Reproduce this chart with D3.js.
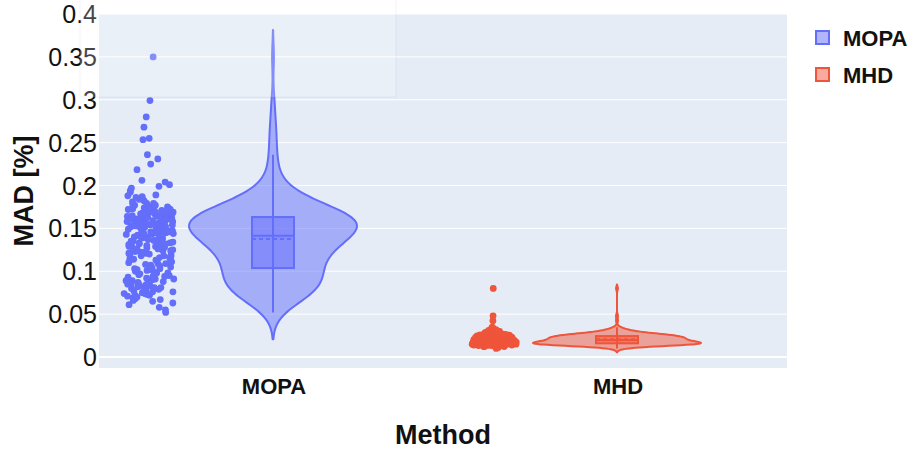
<!DOCTYPE html>
<html>
<head>
<meta charset="utf-8">
<script src="https://cdn.jsdelivr.net/npm/d3@7"></script>
<style>
  body { margin: 0; background: #fff; }
  svg text { font-family: "Liberation Sans", Arial, sans-serif; }
</style>
</head>
<body>
<div id="chart"></div>
<script>
// categories and colours
var methods = ['MOPA', 'MHD'];
var colors = ['#636efa', '#ef553b'];

// MAD [%] per run
var mopaValues = [
  0.052, 0.055, 0.058,
  0.061, 0.063, 0.065, 0.066, 0.067, 0.068, 0.069,
  0.070, 0.071, 0.072, 0.072, 0.073, 0.074, 0.074, 0.075, 0.076, 0.076, 0.077, 0.078, 0.079, 0.079,
  0.080, 0.081, 0.081, 0.082, 0.083, 0.083, 0.084, 0.085, 0.085, 0.086, 0.087, 0.087, 0.088, 0.089, 0.089,
  0.090, 0.091, 0.091, 0.092, 0.093, 0.093, 0.094, 0.095, 0.095, 0.096, 0.097, 0.098, 0.098, 0.099,
  0.100, 0.101, 0.101, 0.102, 0.102, 0.103, 0.103, 0.104, 0.105, 0.106, 0.107, 0.108, 0.109, 0.109,
  0.110, 0.111, 0.112, 0.113, 0.113, 0.114, 0.115, 0.116, 0.116, 0.117, 0.118, 0.118, 0.119, 0.119,
  0.120, 0.121, 0.121, 0.122, 0.122, 0.123, 0.124, 0.124, 0.125, 0.126, 0.126, 0.127, 0.127, 0.128, 0.129, 0.129,
  0.130, 0.130, 0.131, 0.131, 0.132, 0.132, 0.133, 0.133, 0.134, 0.134, 0.135, 0.135, 0.136, 0.136,
  0.137, 0.137, 0.138, 0.138, 0.139, 0.139, 0.140, 0.140, 0.141,
  0.142, 0.142, 0.143, 0.143, 0.143, 0.144, 0.144, 0.145, 0.145, 0.145, 0.146, 0.146, 0.146,
  0.147, 0.147, 0.148, 0.148, 0.148, 0.149, 0.149, 0.149, 0.150,
  0.150, 0.151, 0.151, 0.151, 0.152, 0.152, 0.152, 0.153, 0.153, 0.153, 0.154, 0.154, 0.154,
  0.155, 0.155, 0.155, 0.156, 0.156, 0.156, 0.157, 0.157, 0.157, 0.158, 0.158, 0.158,
  0.159, 0.159, 0.159, 0.160, 0.160, 0.160, 0.161, 0.161, 0.161, 0.162, 0.162, 0.162, 0.163,
  0.164, 0.164, 0.164, 0.165, 0.165, 0.165, 0.166, 0.166, 0.166, 0.167, 0.167, 0.167,
  0.168, 0.168, 0.168, 0.169, 0.169, 0.170, 0.170,
  0.171, 0.171, 0.172, 0.172, 0.173, 0.173, 0.174, 0.174, 0.175, 0.175, 0.176, 0.177, 0.177, 0.178, 0.179, 0.179,
  0.181, 0.182, 0.184, 0.185, 0.186, 0.187, 0.188, 0.189,
  0.192, 0.194, 0.197, 0.199,
  0.201, 0.204, 0.206,
  0.2185, 0.225, 0.231, 0.236, 0.2535, 0.255, 0.268, 0.280, 0.299, 0.350
];

var mhdValues = [
  0.0100, 0.0110, 0.0116,
  0.0121, 0.0123, 0.0125, 0.0127, 0.0128, 0.0130, 0.0131, 0.0132, 0.0134, 0.0135, 0.0136, 0.0137, 0.0138, 0.0139,
  0.0140, 0.0140, 0.0141, 0.0141, 0.0142, 0.0142, 0.0142, 0.0143, 0.0143, 0.0144, 0.0144, 0.0144,
  0.0145, 0.0145, 0.0146, 0.0146, 0.0146, 0.0147, 0.0147, 0.0148, 0.0148, 0.0148, 0.0149, 0.0149,
  0.0150, 0.0150, 0.0151, 0.0151, 0.0152, 0.0152, 0.0153, 0.0153, 0.0154, 0.0154,
  0.0155, 0.0155, 0.0156, 0.0156, 0.0157, 0.0157, 0.0158, 0.0158, 0.0159,
  0.0160, 0.0160, 0.0161, 0.0161, 0.0162, 0.0162, 0.0163, 0.0163, 0.0164, 0.0164, 0.0165, 0.0165,
  0.0166, 0.0166, 0.0167, 0.0167, 0.0168, 0.0168, 0.0169, 0.0169, 0.0170, 0.0170, 0.0171, 0.0171,
  0.0172, 0.0172, 0.0173, 0.0173, 0.0174, 0.0174, 0.0175, 0.0175, 0.0176, 0.0176, 0.0177, 0.0178,
  0.0180, 0.0181, 0.0181, 0.0182, 0.0183, 0.0183, 0.0184, 0.0185, 0.0185, 0.0186, 0.0187, 0.0187,
  0.0188, 0.0189, 0.0189, 0.0190, 0.0191, 0.0192, 0.0193, 0.0194, 0.0195, 0.0196, 0.0197, 0.0199,
  0.0200, 0.0201, 0.0201, 0.0202, 0.0203, 0.0203, 0.0204, 0.0205, 0.0205, 0.0206, 0.0207, 0.0207,
  0.0208, 0.0209, 0.0209, 0.0210, 0.0211, 0.0211, 0.0212, 0.0213, 0.0213, 0.0214, 0.0215, 0.0216,
  0.0216, 0.0217, 0.0218, 0.0219,
  0.0220, 0.0221, 0.0221, 0.0222, 0.0222, 0.0223, 0.0224, 0.0224, 0.0225, 0.0226, 0.0226, 0.0227,
  0.0228, 0.0228, 0.0229, 0.0230, 0.0230, 0.0231, 0.0232, 0.0232, 0.0233, 0.0234, 0.0235, 0.0236,
  0.0237, 0.0238, 0.0239, 0.0240, 0.0241, 0.0242, 0.0243, 0.0244,
  0.0245, 0.0245, 0.0246, 0.0246, 0.0247, 0.0247, 0.0248, 0.0248, 0.0249, 0.0250, 0.0250,
  0.0251, 0.0252, 0.0253, 0.0254, 0.0254, 0.0255, 0.0256, 0.0257, 0.0258, 0.0259, 0.0259,
  0.0260, 0.0261, 0.0262, 0.0263, 0.0264, 0.0265, 0.0266, 0.0267, 0.0268, 0.0269, 0.0270,
  0.0272, 0.0273, 0.0275, 0.0276, 0.0278, 0.0279,
  0.0281, 0.0283, 0.0285, 0.0287, 0.0289, 0.0291, 0.0294, 0.0296, 0.0298,
  0.0302, 0.0306, 0.0310, 0.0314, 0.0318,
  0.0324, 0.0331, 0.0338, 0.0347,
  0.0424, 0.048, 0.080
];

var yTicks = [0, 0.05, 0.1, 0.15, 0.2, 0.25, 0.3, 0.35, 0.4];
var yDomain = [-0.0128, 0.4];

var width = 915, height = 450;
var plot = { left: 99, right: 787, top: 14, bottom: 368 };
var violinHalf = 84;      // max half width of each violin
var boxHalf = 21;
var pointOffset = -124;   // points drawn left of the violin
var jitterHalf = 25;

var series = [
  { name: methods[0], color: colors[0], values: mopaValues, spread: function(p) { return Math.min(1, 1.8 * Math.sqrt(p)); } },
  { name: methods[1], color: colors[1], values: mhdValues, spread: function(p) { return p; } }
];

var svg = d3.select('#chart').append('svg')
  .attr('width', width)
  .attr('height', height);

var x = d3.scalePoint().domain(methods).range([plot.left, plot.right]).padding(0.5);
var y = d3.scaleLinear().domain(yDomain).range([plot.bottom, plot.top]);

// background
svg.append('rect')
  .attr('x', plot.left).attr('y', plot.top)
  .attr('width', plot.right - plot.left).attr('height', plot.bottom - plot.top)
  .attr('fill', '#e5ecf6');

// grid
svg.append('g')
  .selectAll('line')
  .data(yTicks)
  .enter().append('line')
  .attr('x1', plot.left).attr('x2', plot.right)
  .attr('y1', function(d) { return y(d); })
  .attr('y2', function(d) { return y(d); })
  .attr('stroke', '#fff')
  .attr('stroke-width', function(d) { return d === 0 ? 2 : 1; });

// y tick labels
var fmt = d3.format('~g');
svg.append('g')
  .selectAll('text')
  .data(yTicks)
  .enter().append('text')
  .attr('x', 97)
  .attr('y', function(d) { return y(d); })
  .attr('dy', '0.36em')
  .attr('text-anchor', 'end')
  .attr('font-size', 25)
  .attr('fill', '#111')
  .text(function(d) { return fmt(d); });

// x tick labels
svg.append('g')
  .selectAll('text')
  .data(methods)
  .enter().append('text')
  .attr('x', function(d) { return x(d) + 3; })
  .attr('y', 394)
  .attr('text-anchor', 'middle')
  .attr('font-size', 22)
  .attr('font-weight', 'bold')
  .attr('fill', '#111')
  .text(function(d) { return d; });

// axis titles
svg.append('text')
  .attr('x', (plot.left + plot.right) / 2)
  .attr('y', 444)
  .attr('text-anchor', 'middle')
  .attr('font-size', 27)
  .attr('font-weight', 'bold')
  .attr('fill', '#111')
  .text('Method');

svg.append('text')
  .attr('transform', 'translate(33,' + ((plot.top + plot.bottom) / 2) + ') rotate(-90)')
  .attr('text-anchor', 'middle')
  .attr('font-size', 27)
  .attr('font-weight', 'bold')
  .attr('fill', '#111')
  .text('MAD [%]');

function gauss(u) {
  return Math.exp(-0.5 * u * u) / Math.sqrt(2 * Math.PI);
}

// fixed pseudo jitter, same picture every run
function jit(i) {
  var s = Math.sin(i * 12.9898 + 78.233) * 43758.5453;
  return s - Math.floor(s);
}

function boxStats(values) {
  var s = values.slice().sort(d3.ascending);
  var q1 = d3.quantile(s, 0.25), q3 = d3.quantile(s, 0.75);
  var iqr = q3 - q1;
  var lo = d3.min(s.filter(function(v) { return v >= q1 - 1.5 * iqr; }));
  var hi = d3.max(s.filter(function(v) { return v <= q3 + 1.5 * iqr; }));
  return {
    q1: q1, q3: q3, iqr: iqr,
    median: d3.quantile(s, 0.5),
    mean: d3.mean(s),
    lo: lo, hi: hi,
    min: s[0], max: s[s.length - 1],
    sd: d3.deviation(s)
  };
}

series.forEach(function(ser) {
  var st = boxStats(ser.values);
  var n = ser.values.length;
  var bw = 1.059 * Math.min(st.sd, st.iqr / 1.349) * Math.pow(n, -0.2);
  var pdf = function(v) {
    return d3.sum(ser.values, function(d) { return gauss((v - d) / bw); }) / (n * bw);
  };
  var grid = d3.range(0, 201).map(function(i) {
    var v = st.min - 2 * bw + i * (st.max - st.min + 4 * bw) / 200;
    return { v: v, p: pdf(v) };
  });
  var maxP = d3.max(grid, function(d) { return d.p; });
  var cx = x(ser.name) + 2;
  var fill = d3.color(ser.color); fill.opacity = 0.5;

  var g = svg.append('g');

  var area = d3.area()
    .y(function(d) { return y(d.v); })
    .x0(function(d) { return cx - violinHalf * d.p / maxP; })
    .x1(function(d) { return cx + violinHalf * d.p / maxP; })
    .curve(d3.curveBasis);

  g.append('path')
    .attr('d', area(grid))
    .attr('fill', fill + '')
    .attr('stroke', ser.color)
    .attr('stroke-width', 2)
    .attr('stroke-linejoin', 'round');

  // whiskers
  g.append('line')
    .attr('x1', cx).attr('x2', cx)
    .attr('y1', y(st.lo)).attr('y2', y(st.hi))
    .attr('stroke', ser.color).attr('stroke-width', 2);

  // box
  g.append('rect')
    .attr('x', cx - boxHalf).attr('width', 2 * boxHalf)
    .attr('y', y(st.q3)).attr('height', y(st.q1) - y(st.q3))
    .attr('fill', fill + '')
    .attr('stroke', ser.color).attr('stroke-width', 2);

  g.append('line')
    .attr('x1', cx - boxHalf).attr('x2', cx + boxHalf)
    .attr('y1', y(st.median)).attr('y2', y(st.median))
    .attr('stroke', ser.color).attr('stroke-width', 2);

  g.append('line')
    .attr('x1', cx - boxHalf).attr('x2', cx + boxHalf)
    .attr('y1', y(st.mean)).attr('y2', y(st.mean))
    .attr('stroke', ser.color).attr('stroke-width', 2)
    .attr('stroke-dasharray', '4,3');

  // points, spread less where the data are sparse
  g.selectAll('circle')
    .data(ser.values)
    .enter().append('circle')
    .attr('cx', function(d, i) {
      var u = jit(i + n);
      return cx + pointOffset + (2 * u - 1) * jitterHalf * ser.spread(pdf(d) / maxP);
    })
    .attr('cy', function(d) { return y(d); })
    .attr('r', 3.4)
    .attr('fill', ser.color);
});

// legend
var legend = svg.append('g').attr('transform', 'translate(815,30)');
var item = legend.selectAll('g')
  .data(series)
  .enter().append('g')
  .attr('transform', function(d, i) { return 'translate(0,' + (i * 37) + ')'; });

item.append('rect')
  .attr('x', 1).attr('y', 1)
  .attr('width', 13).attr('height', 13)
  .attr('fill', function(d) { var c = d3.color(d.color); c.opacity = 0.5; return c + ''; })
  .attr('stroke', function(d) { return d.color; })
  .attr('stroke-width', 2);

item.append('text')
  .attr('x', 28)
  .attr('y', 16)
  .attr('font-size', 22)
  .attr('font-weight', 'bold')
  .attr('fill', '#111')
  .text(function(d) { return d.name; });

// faint hover box left over in the top left corner
svg.append('rect')
  .attr('x', 80).attr('y', -2)
  .attr('width', 316).attr('height', 99)
  .attr('fill', 'rgba(255,255,255,0.22)')
  .attr('stroke', 'rgba(0,0,0,0.05)');
</script>
</body>
</html>
